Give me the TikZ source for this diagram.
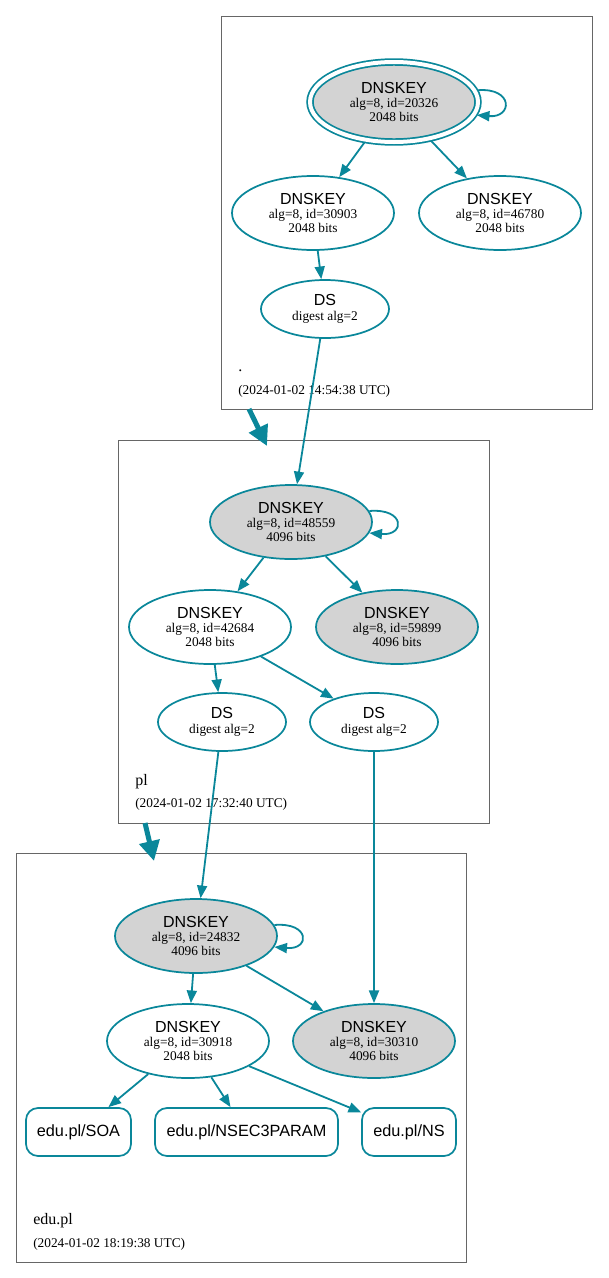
\documentclass[tikz,border=0pt]{standalone}
\usepackage{fontspec}
\setmainfont{Liberation Serif}
\setsansfont{Liberation Sans}
\usetikzlibrary{shapes.geometric,arrows.meta}
\definecolor{dvz}{HTML}{0A879A}
\definecolor{kfill}{HTML}{D3D3D3}
\definecolor{zbox}{HTML}{666666}
\newcommand\dnskeylbl[2]{{\sffamily\fontsize{12}{10.5}\selectfont DNSKEY}\\alg=8, id=#1\\#2 bits}
\newcommand\dslbl{{\sffamily\fontsize{12}{11}\selectfont DS}\\digest alg=2}
\begin{document}
\begin{tikzpicture}[x=0.75pt,y=-0.75pt,
 key/.style={ellipse,draw=dvz,line width=1.3pt,inner sep=0pt,minimum width=121.5pt,minimum height=55.5pt,align=center,font=\fontsize{10}{10.5}\selectfont},
 ksk/.style={key,fill=kfill},
 dsnode/.style={key,minimum width=96pt,minimum height=43.5pt,font=\fontsize{10}{11}\selectfont},
 rrnode/.style={rectangle,rounded corners=9pt,draw=dvz,line width=1.3pt,minimum height=36pt,inner sep=0pt,font=\sffamily\fontsize{12.2}{14}\selectfont},
 edge/.style={draw=dvz,line width=1.35pt,-{Triangle[length=9.5pt,width=7.5pt]}},
 deleg/.style={draw=dvz,line width=3.75pt,-{Triangle[length=15pt,width=15pt]}},
 zone/.style={draw=zbox,line width=0.75pt},
 zname/.style={anchor=base west,inner sep=0pt,font=\fontsize{12}{14}\selectfont},
 ztime/.style={anchor=base west,inner sep=0pt,font=\fontsize{10}{12}\selectfont},
]
\useasboundingbox (0,0) rectangle (608,1278);

% zone boxes
\draw[zone] (221,16) rectangle (592,409);
\draw[zone] (118,440) rectangle (489,823);
\draw[zone] (16,853) rectangle (466,1262);

% zone labels
\node[zname] (lroot) at (238,371) {.};
\node[ztime] (troot) at (238,394) {(2024-01-02 14:54:38 UTC)};
\node[zname] (lpl) at (135,785) {pl};
\node[ztime] (tpl) at (135,807) {(2024-01-02 17:32:40 UTC)};
\node[zname] (ledu) at (33,1224) {edu.pl};
\node[ztime] (tedu) at (33,1247) {(2024-01-02 18:19:38 UTC)};

% root zone
\node[ksk,double=white,double distance=3.0pt,minimum width=126pt,minimum height=60pt,outer sep=2.2pt] (k20326) at (394,102) {\dnskeylbl{20326}{2048}};
\node[key] (k30903) at (313,213) {\dnskeylbl{30903}{2048}};
\node[key] (k46780) at (500,213) {\dnskeylbl{46780}{2048}};
\node[dsnode] (dsroot) at (325,309) {\dslbl};

% pl zone
\node[ksk] (k48559) at (291,522) {\dnskeylbl{48559}{4096}};
\node[key] (k42684) at (210,627) {\dnskeylbl{42684}{2048}};
\node[ksk] (k59899) at (397,627) {\dnskeylbl{59899}{4096}};
\node[dsnode] (dspla) at (222,722) {\dslbl};
\node[dsnode] (dsplb) at (374,722) {\dslbl};

% edu.pl zone
\node[ksk] (k24832) at (196,936) {\dnskeylbl{24832}{4096}};
\node[key] (k30918) at (188,1041) {\dnskeylbl{30918}{2048}};
\node[ksk] (k30310) at (374,1041) {\dnskeylbl{30310}{4096}};
\node[rrnode,minimum width=78.75pt] (soa) at (78.5,1132) {edu.pl/SOA};
\node[rrnode,minimum width=137.25pt] (nsec3) at (246.5,1132) {edu.pl/NSEC3PARAM};
\node[rrnode,minimum width=70.5pt] (ns) at (409,1132) {edu.pl/NS};

% delegation arrows
\coordinate (d1s) at (249,409);
\coordinate (d1e) at (267,446);
\coordinate (d2s) at (145,823);
\coordinate (d2e) at (154,861);
\draw[deleg] (d1s) -- (d1e);
\draw[deleg] (d2s) -- (d2e);

% edges
\draw[edge] (k20326.8) .. controls +(36,-3) and +(36,3) .. (k20326.-9);
\draw[edge] (k20326) -- (k30903);
\draw[edge] (k20326) -- (k46780);
\draw[edge] (k30903) -- (dsroot);
\draw[edge] (dsroot) -- (k48559);

\draw[edge] (k48559.8) .. controls +(36,-3) and +(36,3) .. (k48559.-8);
\draw[edge] (k48559) -- (k42684);
\draw[edge] (k48559) -- (k59899);
\draw[edge] (k42684) -- (dspla);
\draw[edge] (k42684) -- (dsplb);
\draw[edge] (dspla) -- (k24832);
\draw[edge] (dsplb) -- (k30310);

\draw[edge] (k24832.8) .. controls +(36,-3) and +(36,3) .. (k24832.-8);
\draw[edge] (k24832) -- (k30918);
\draw[edge] (k24832) -- (k30310);
\draw[edge] (k30918) -- (soa);
\draw[edge] (k30918) -- (nsec3);
\draw[edge] (k30918) -- (ns);
\end{tikzpicture}
\end{document}
